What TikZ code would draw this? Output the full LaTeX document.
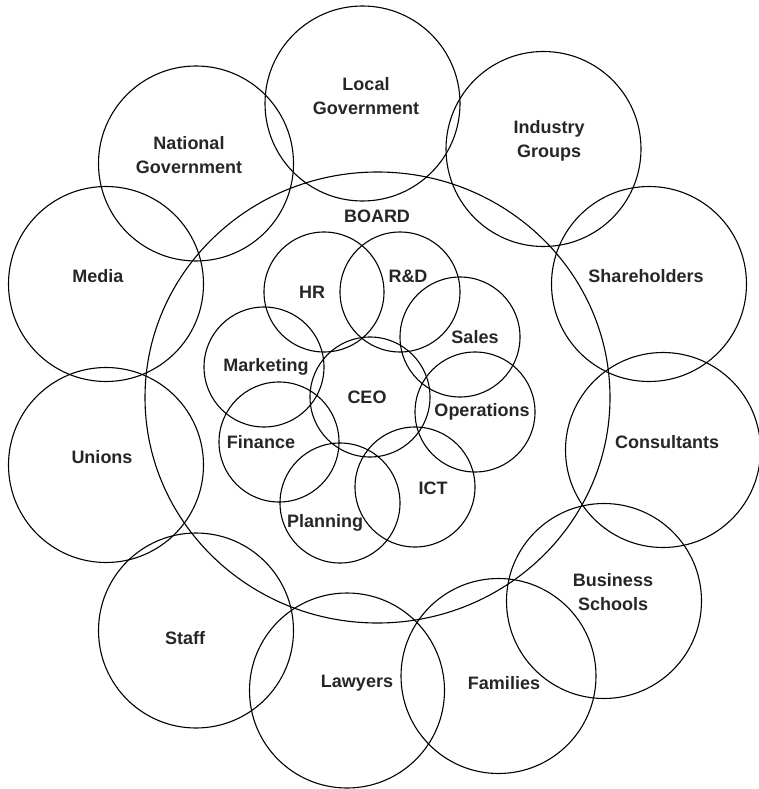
\documentclass[tikz,border=0pt]{standalone}
\usepackage{fontspec}
\setmainfont{Liberation Sans}

\tikzset{
  ring/.style={line width=1.1pt},
  lbl/.style={font=\bfseries\fontsize{18}{24}\selectfont,text=black!85,align=center,inner sep=0pt}
}

\begin{document}
\begin{tikzpicture}[x=1pt,y=-1pt]
\useasboundingbox (0,0) rectangle (759,789);
\draw[ring] (377.5,397.5) ellipse [x radius=232.5pt,y radius=225.5pt];
\node[lbl] (board) at (377,216) {BOARD};
\draw[ring] (362.5,103.5) circle (97.5pt);
\node[lbl] (localgov) at (366,96) {Local\\Government};
\draw[ring] (196,163.5) circle (97.5pt);
\node[lbl] (natgov) at (189,155) {National\\Government};
\draw[ring] (543.5,149) circle (97.5pt);
\node[lbl] (industry) at (549,141) {Industry\\Groups};
\draw[ring] (106,284) circle (97.5pt);
\node[lbl] (media) at (98,276) {Media};
\draw[ring] (649,284) circle (97.5pt);
\node[lbl] (shareholders) at (646,276) {Shareholders};
\draw[ring] (106,465) circle (97.5pt);
\node[lbl] (unions) at (102,457) {Unions};
\draw[ring] (663,450) circle (97.5pt);
\node[lbl] (consultants) at (667,442) {Consultants};
\draw[ring] (196,630.5) circle (97.5pt);
\node[lbl] (staff) at (185,638) {Staff};
\draw[ring] (347,690.5) circle (97.5pt);
\node[lbl] (lawyers) at (357,683) {Lawyers};
\draw[ring] (498.5,676) circle (97.5pt);
\node[lbl] (families) at (504,683) {Families};
\draw[ring] (604,601) circle (97.5pt);
\node[lbl] (bschools) at (613,592) {Business\\Schools};
\draw[ring] (324,292) circle (60pt);
\node[lbl] (hr) at (312,292) {HR};
\draw[ring] (400,292) circle (60pt);
\node[lbl] (rd) at (408,276) {R\&D};
\draw[ring] (460,337) circle (60pt);
\node[lbl] (sales) at (475,337) {Sales};
\draw[ring] (264,367) circle (60pt);
\node[lbl] (marketing) at (266,367) {Marketing};
\draw[ring] (370,397) circle (60pt);
\node[lbl] (ceo) at (367,397) {CEO};
\draw[ring] (475,412) circle (60pt);
\node[lbl] (operations) at (482,412) {Operations};
\draw[ring] (279,442) circle (60pt);
\node[lbl] (finance) at (261,442) {Finance};
\draw[ring] (340,503) circle (60pt);
\node[lbl] (planning) at (325,523) {Planning};
\draw[ring] (415,487) circle (60pt);
\node[lbl] (ict) at (433,488) {ICT};
\end{tikzpicture}
\end{document}
